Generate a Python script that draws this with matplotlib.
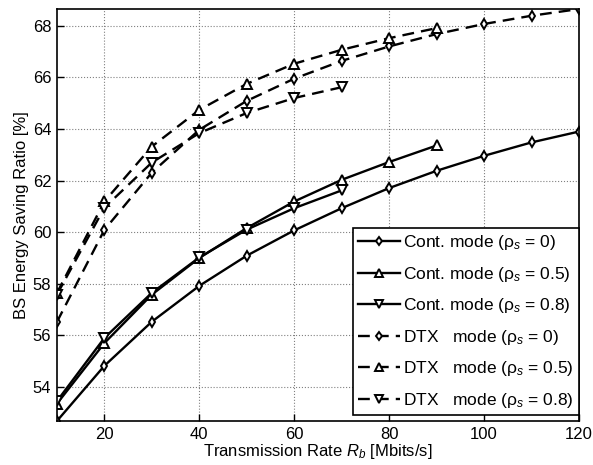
import matplotlib.pyplot as plt

plt.rcParams['font.family'] = ['Liberation Sans', 'DejaVu Sans']
plt.rcParams['mathtext.fontset'] = 'custom'
plt.rcParams['mathtext.rm'] = 'Liberation Sans'
plt.rcParams['mathtext.it'] = 'Liberation Sans:italic'

rate_long = [10, 20, 30, 40, 50, 60, 70, 80, 90, 100, 110, 120]
rate_90 = [10, 20, 30, 40, 50, 60, 70, 80, 90]
rate_70 = [10, 20, 30, 40, 50, 60, 70]

cont_rho0 = [52.68, 54.82, 56.53, 57.92, 59.09, 60.07, 60.93, 61.71, 62.38, 62.96, 63.48, 63.90]
cont_rho05 = [53.35, 55.70, 57.58, 59.00, 60.16, 61.19, 62.03, 62.72, 63.36]
cont_rho08 = [53.45, 55.90, 57.65, 59.02, 60.10, 60.93, 61.62]
dtx_rho0 = [56.52, 60.09, 62.31, 63.97, 65.09, 65.95, 66.64, 67.20, 67.68, 68.07, 68.39, 68.65]
dtx_rho05 = [57.64, 61.19, 63.32, 64.74, 65.75, 66.53, 67.07, 67.52, 67.91]
dtx_rho08 = [57.58, 60.95, 62.70, 63.84, 64.62, 65.20, 65.62]

fig = plt.figure(figsize=(5.93, 4.65), dpi=100)
ax = fig.add_axes([0.096, 0.0946, 0.8804, 0.886])

dash = (0, (5, 3))
estilo = dict(color='black', lw=1.7, markerfacecolor='white',
              markeredgecolor='black', markeredgewidth=1.4)

ax.plot(rate_long, cont_rho0, '-', marker='d', ms=5.5, label='Cont. mode (ρ$_s$ = 0)', **estilo)
ax.plot(rate_90, cont_rho05, '-', marker='^', ms=7, label='Cont. mode (ρ$_s$ = 0.5)', **estilo)
ax.plot(rate_70, cont_rho08, '-', marker='v', ms=7, label='Cont. mode (ρ$_s$ = 0.8)', **estilo)
ax.plot(rate_long, dtx_rho0, linestyle=dash, marker='d', ms=5.5, label='DTX   mode (ρ$_s$ = 0)', **estilo)
ax.plot(rate_90, dtx_rho05, linestyle=dash, marker='^', ms=7, label='DTX   mode (ρ$_s$ = 0.5)', **estilo)
ax.plot(rate_70, dtx_rho08, linestyle=dash, marker='v', ms=7, label='DTX   mode (ρ$_s$ = 0.8)', **estilo)

ax.set_xlim(10, 120)
ax.set_ylim(52.68, 68.65)
ax.set_xticks([20, 40, 60, 80, 100, 120])
ax.set_yticks([54, 56, 58, 60, 62, 64, 66, 68])
ax.tick_params(labelsize=12, direction='in', length=5, width=1, pad=4)
for s in ax.spines.values():
    s.set_linewidth(1.2)
ax.grid(True, linestyle=':', color='gray', lw=0.8)

ax.set_xlabel('Transmission Rate $R_b$ [Mbits/s]', fontsize=12, labelpad=0)
ax.set_ylabel('BS Energy Saving Ratio [%]', fontsize=12, labelpad=3)

leg = ax.legend(loc='lower right', bbox_to_anchor=(1.0, 0.015), fontsize=12.5,
                handlelength=2.4, handletextpad=0.2, markerscale=0.8,
                labelspacing=0.72, borderaxespad=0, fancybox=False, framealpha=1,
                edgecolor='black', borderpad=0.3)
leg.get_frame().set_linewidth(1.2)

plt.savefig('out.png', dpi=100)
